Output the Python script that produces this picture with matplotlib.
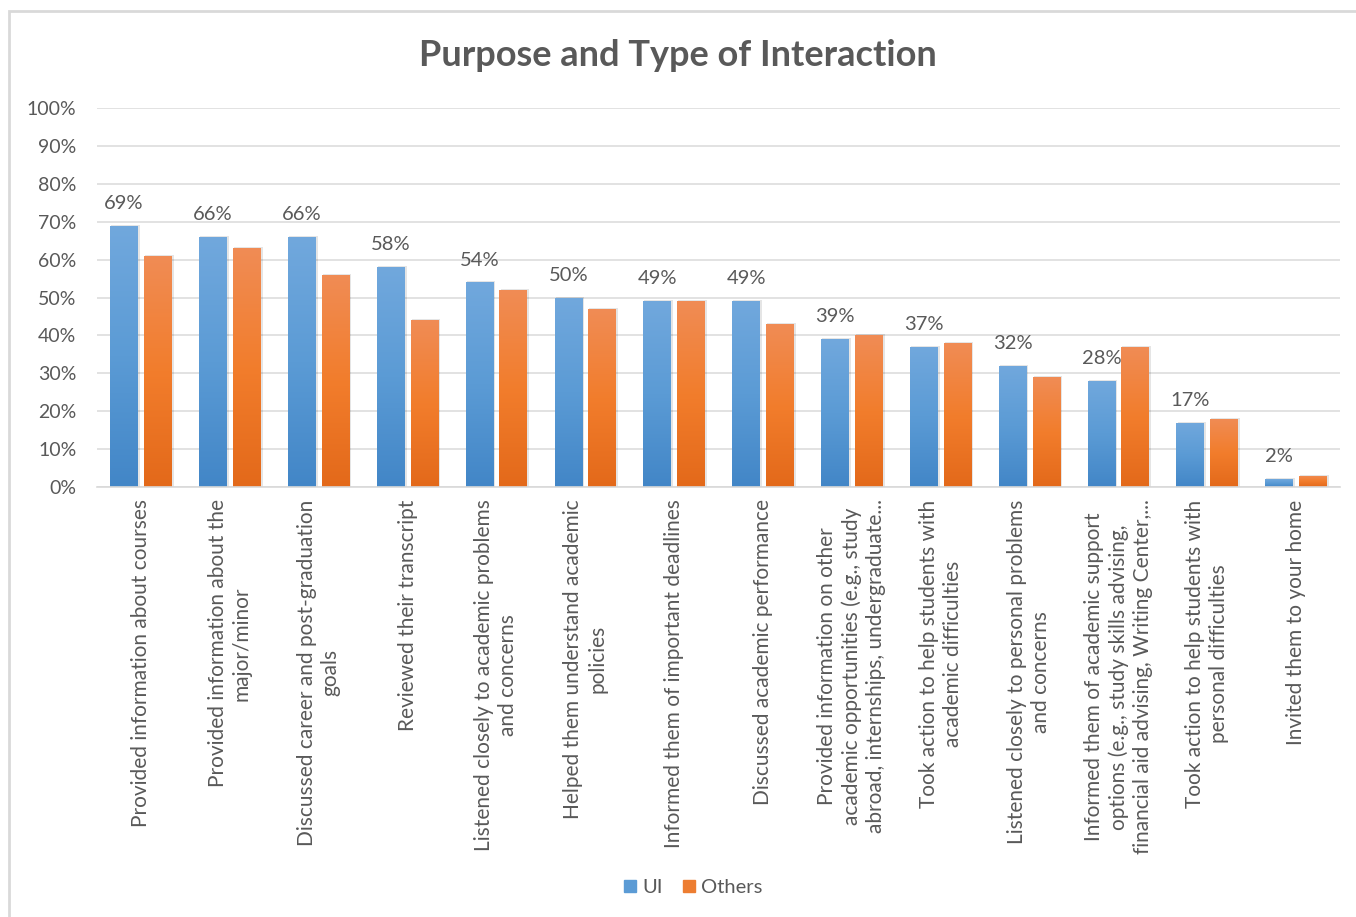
import numpy as np
import matplotlib.pyplot as plt
from matplotlib.colors import LinearSegmentedColormap
from matplotlib.patches import Rectangle

plt.rcParams['font.family'] = ['Lato', 'DejaVu Sans']

categories = [
    "Provided information about courses",
    "Provided information about the\nmajor/minor",
    "Discussed career and post-graduation\ngoals",
    "Reviewed their transcript",
    "Listened closely to academic problems\nand concerns",
    "Helped them understand academic\npolicies",
    "Informed them of important deadlines",
    "Discussed academic performance",
    "Provided information on other\nacademic opportunities (e.g., study\nabroad, internships, undergraduate...",
    "Took action to help students with\nacademic difficulties",
    "Listened closely to personal problems\nand concerns",
    "Informed them of academic support\noptions (e.g., study skills advising,\nfinancial aid advising, Writing Center,...",
    "Took action to help students with\npersonal difficulties",
    "Invited them to your home",
]
ui = [69, 66, 66, 58, 54, 50, 49, 49, 39, 37, 32, 28, 17, 2]
others = [61, 63, 56, 44, 52, 47, 49, 43, 40, 38, 29, 37, 18, 3]
yticks = list(range(0, 101, 10))

TEXT = "#595959"
blue_cmap = LinearSegmentedColormap.from_list("blue", ["#4286C7", "#5B9BD5", "#71A8DD"])
orange_cmap = LinearSegmentedColormap.from_list("orange", ["#E3691A", "#F27D2C", "#F08C55"])


def gradient_bars(ax, bars, cmap):
    grad = np.linspace(0, 1, 256).reshape(-1, 1)
    for b in bars:
        x, y = b.get_x(), b.get_y()
        w, h = b.get_width(), b.get_height()
        # soft drop shadow
        ax.add_patch(Rectangle((x + 0.012, y), w + 0.012, h + 0.25, color="#000000",
                               alpha=0.10, lw=0, zorder=1.5))
        im = ax.imshow(grad, extent=(x, x + w, y, y + h), origin="lower", cmap=cmap,
                       aspect="auto", zorder=2.5, interpolation="bilinear")
        im.set_clip_path(b)
        b.set_alpha(0)


fig = plt.figure(figsize=(13.56, 9.17), dpi=100)
fig.patches.append(Rectangle((9 / 1356, -0.01), 1.02, 1 - 11 / 917 + 0.01, transform=fig.transFigure,
                             fill=False, edgecolor="#D9D9D9", lw=2))
ax = fig.add_axes([0.0712, 0.469, 0.9173, 0.413])

x = np.arange(len(categories))
w = 0.31
b_ui = ax.bar(x - 0.19, ui, w, color="#5B9BD5", label="UI", zorder=2)
b_ot = ax.bar(x + 0.19, others, w, color="#ED7D31", label="Others", zorder=2)
gradient_bars(ax, b_ui, blue_cmap)
gradient_bars(ax, b_ot, orange_cmap)

for xi, v in zip(x, ui):
    ax.annotate(f"{v}%", (xi - 0.19, v), xytext=(0, 10), textcoords="offset points",
                ha="center", va="bottom", fontsize=14.5, color=TEXT)

ax.set_xlim(-0.5, len(categories) - 0.5)
ax.set_ylim(0, 100)
ax.set_yticks(yticks)
ax.set_yticklabels([f"{t}%" for t in yticks], fontsize=14, color=TEXT)
ax.set_xticks(x)
ax.set_xticklabels(categories, rotation=90, ha="center", va="top", multialignment="center",
                   fontsize=15, color=TEXT, linespacing=1.25)
ax.tick_params(length=0)
ax.tick_params(axis="x", pad=9)
ax.tick_params(axis="y", pad=14.5)
ax.grid(axis="y", color="#DDDDDD", lw=1.2)
ax.set_axisbelow(True)
for s in ["top", "right", "left"]:
    ax.spines[s].set_visible(False)
ax.spines["bottom"].set_color("#D9D9D9")
ax.spines["bottom"].set_linewidth(1.2)

fig.suptitle("Purpose and Type of Interaction", y=0.94, va="center", fontsize=26,
             fontweight="bold", color=TEXT)

h1 = Rectangle((0, 0), 1, 1, color="#5B9BD5")
h2 = Rectangle((0, 0), 1, 1, color="#ED7D31")
fig.legend([h1, h2], ["UI", "Others"], loc="center", bbox_to_anchor=(0.511, 0.032), ncol=2,
           frameon=False, fontsize=14.5, labelcolor=TEXT, handlelength=0.6, handleheight=0.6,
           handletextpad=0.3, columnspacing=1.0)

fig.savefig("out.png", dpi=100)
